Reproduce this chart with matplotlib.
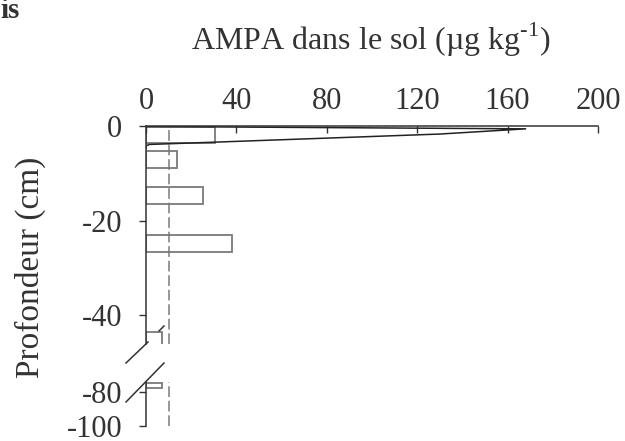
import matplotlib
matplotlib.use("Agg")
import matplotlib.pyplot as plt
from matplotlib.lines import Line2D

plt.rcParams['font.family'] = ['Liberation Serif', 'DejaVu Serif']
plt.rcParams['mathtext.fontset'] = 'custom'
plt.rcParams['mathtext.rm'] = 'Liberation Serif'

# ---- data ----
bar_values = [30.5, 13.7, 25.2, 38.0, 7.0, 7.0]          # AMPA (µg/kg)
bar_top = [-0.2, -5.3, -12.9, -23.1, -43.6, -74.6]       # depth (cm)
bar_bottom = [-3.6, -8.9, -16.5, -26.7, -47.2, -77.5]    # depth (cm)
curve_values = [0, 168, 130, 31.4, 1.5, 0.0, 0.0]
curve_depths = [-0.1, -0.6, -1.7, -3.4, -3.9, -4.2, -4.7]
ref_value = 10                                            # dashed reference
x_ticks = [0, 40, 80, 120, 160, 200]
y_ticks_top = [0, -20, -40]
y_ticks_bottom = [-80, -100]

W, H = 625, 441
fig = plt.figure(figsize=(W / 100, H / 100), dpi=100)
txt = '#333333'
axc = '#333333'
FS = 22

def fx(px):
    return px / W

def fy(py):
    return 1 - py / H

ax1 = fig.add_axes([fx(146), fy(344), fx(598) - fx(146), fy(126) - fy(344)])
ax2 = fig.add_axes([fx(146), fy(426), fx(598) - fx(146), fy(382) - fy(426)])

ax1.set_xlim(0, 200)
ax1.set_ylim(-46.1, 0)
ax2.set_xlim(0, 200)
ax2.set_ylim(-100, -74)

for ax in (ax1, ax2):
    ax.patch.set_alpha(0)
    for b, t, v in zip(bar_bottom, bar_top, bar_values):
        ax.barh((b + t) / 2, v, height=t - b, left=0, fill=False,
                edgecolor='#7a7a7a', linewidth=1.3)
    ax.axvline(ref_value, color='#7a7a7a', linewidth=1.1, dashes=(7, 2.5))
    ax.spines['right'].set_visible(False)
    ax.spines['bottom'].set_visible(False)
    ax.spines['left'].set_color(axc)
    ax.spines['left'].set_linewidth(1.1)

ax1.plot(curve_values, curve_depths, color='#222222', linewidth=1.1)

ax1.spines['top'].set_color(axc)
ax1.spines['top'].set_linewidth(1.1)
ax1.xaxis.tick_top()
ax1.set_xticks(x_ticks)
ax1.set_xticklabels([str(v) for v in x_ticks])
ax1.tick_params(axis='x', direction='in', length=5, width=1, color=axc,
                labelsize=FS, labelcolor=txt, pad=7)
ax1.set_yticks(y_ticks_top)
ax1.set_yticklabels([str(v) for v in y_ticks_top])
ax1.tick_params(axis='y', direction='out', length=5, width=1, color=axc,
                labelsize=FS, labelcolor=txt, pad=12)

ax2.spines['top'].set_visible(False)
ax2.set_xticks([])
ax2.set_yticks(y_ticks_bottom)
ax2.set_yticklabels([str(v) for v in y_ticks_bottom])
ax2.tick_params(axis='y', direction='out', length=5, width=1, color=axc,
                labelsize=FS, labelcolor=txt, pad=12)

# axis break marks
for (x0, y0, x1, y1) in [(126, 363, 148, 342), (126, 402, 164, 363), (159, 331, 164, 326)]:
    fig.add_artist(Line2D([fx(x0), fx(x1)], [fy(y0), fy(y1)], transform=fig.transFigure,
                          color=axc, linewidth=1.1))

fig.text(fx(371), fy(40), r'AMPA dans le sol (µg kg$^{\text{-1}}$)',
         ha='center', va='center', fontsize=23, color=txt)
fig.text(fx(30), fy(267), 'Profondeur (cm)', rotation=90, ha='center', va='center',
         fontsize=24, color=txt)
fig.text(fx(0), fy(-3), 'is', ha='left', va='top', fontsize=21, fontweight='bold',
         color=txt)

fig.savefig('out.png', dpi=100)
